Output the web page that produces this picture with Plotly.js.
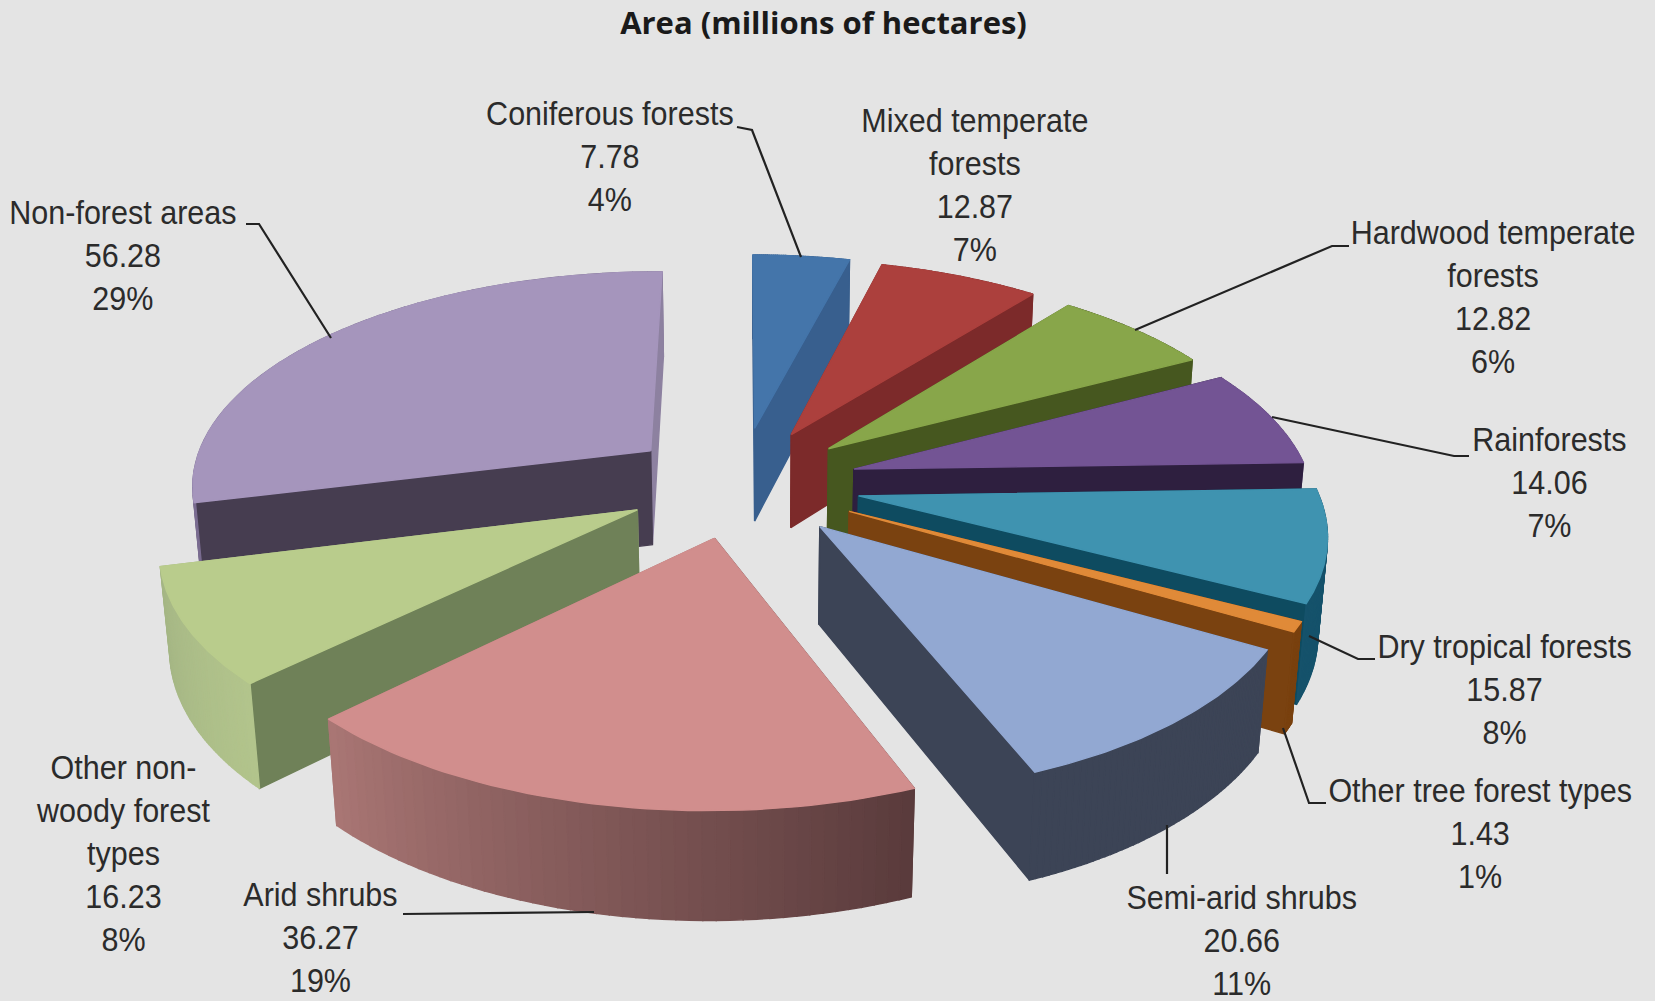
<!DOCTYPE html>
<html>
<head>
<meta charset="utf-8">
<title>Area (millions of hectares)</title>
<script src="https://cdn.plot.ly/plotly-3.0.1.min.js"></script>
<style>
html,body{margin:0;background:#e4e4e4}
#chart{width:1655px;height:1001px}
</style>
</head>
<body>
<div id="chart"></div>
<script>
// Land cover categories, clockwise from twelve o'clock.
const categories = ['Coniferous forests', 'Mixed temperate<br>forests', 'Hardwood temperate<br>forests',
  'Rainforests', 'Dry tropical forests', 'Other tree forest types', 'Semi-arid shrubs', 'Arid shrubs',
  'Other non-<br>woody forest<br>types', 'Non-forest areas'];
const areas = [7.78, 12.87, 12.82, 14.06, 15.87, 1.43, 20.66, 36.27, 16.23, 56.28];
const percentLabels = ['4%', '7%', '6%', '7%', '8%', '1%', '11%', '19%', '8%', '29%'];

// How far each slice is pulled from the pie centre, in radii.
const explode = [0.2677, 0.2618, 0.2581, 0.2602, 0.2634, 0.2673, 0.2599, 0.2539, 0.2509, 0.2509];

// Face colours per slice.
const topColors = ['#4475aa', '#ac403d', '#88a64a', '#735494', '#3f93b0', '#e08a38', '#92a8d2', '#d18e8d', '#b9cc8c', '#a595bc'];
const startWallColors = ['#385f8e', '#7c2a2a', '#46571f', '#2e1f3f', '#0e4b60', '#7a4210', '#3c4456', '#5a3b3c', '#6f8158', '#463d50'];
const endWallColors = ['#385f8e', '#7c2a2a', '#46571f', '#2e1f3f', '#0e4b60', '#7a4210', '#3c4456', '#a97674', '#a4b584', '#8d81a0'];
const rimStartColors = ['#385f8e', '#7c2a2a', '#46571f', '#5a4175', '#15526b', '#7a4210', '#3c4456', '#5a3b3c', '#b2c48c', '#7a6c90'];
const rimEndColors = ['#385f8e', '#7c2a2a', '#46571f', '#5a4175', '#15526b', '#7a4210', '#3c4456', '#a97674', '#a4b584', '#7a6c90'];

// Back-to-front painting order of the slices.
const paintOrder = [9, 0, 1, 2, 3, 4, 5, 6, 8, 7];

// Perspective camera: top plane of the pie, plus the last matrix column for the bottom plane.
const camera = [461.66421, 109.22402, 739.68628, 2.13951, -142.78072, 483.14469, 0.00337, 0.14751];
const topColumn = [739.68628, 483.14469, 1];
const bottomColumn = [752.37805, 588.07993, 1.01671];

const labelX = [610, 975, 1493, 1549, 1504, 1480, 1241, 320, 123, 123];
const labelY = [156, 185, 297, 482, 689, 833, 940, 937, 853, 255];
const labelScale = 0.925;

// Leader lines from the labels to their slices.
const leaderX = [[737, 752, 801], [], [1349, 1332, 1135], [1469, 1454, 1272], [1375, 1358, 1309], [1326, 1309, 1283], [1167, 1167], [403, 594], [], [246, 259, 331]];
const leaderY = [[127, 130, 257], [], [246, 246, 330], [456, 456, 417], [659, 659, 636], [803, 803, 728], [874, 825], [914, 912], [], [224, 224, 338]];

const total = areas.reduce((a, b) => a + b, 0);
const SEGMENTS = 48;

function project(col, X, Y) {
  const w = camera[6] * X + camera[7] * Y + col[2];
  return [(camera[0] * X + camera[1] * Y + col[0]) / w, (camera[3] * X + camera[4] * Y + col[1]) / w];
}

function hexToRgb(h) {
  return [1, 3, 5].map(i => parseInt(h.slice(i, i + 2), 16));
}
function mix(a, b, t) {
  const ca = hexToRgb(a), cb = hexToRgb(b);
  return 'rgb(' + ca.map((v, i) => Math.round(v + (cb[i] - v) * t)).join(',') + ')';
}

function polygon(points, color) {
  const cols = points.map(p => project(p[2], p[0], p[1]));
  return {
    x: cols.map(c => c[0]).concat(cols[0][0]),
    y: cols.map(c => c[1]).concat(cols[0][1]),
    mode: 'lines', fill: 'toself', fillcolor: color,
    line: {color: color, width: 1.4},
    hoverinfo: 'skip', showlegend: false
  };
}

function sliceTraces(i) {
  let before = 0;
  for (let k = 0; k < i; k++) before += areas[k];
  const a0 = before / total * 2 * Math.PI;
  const a1 = (before + areas[i]) / total * 2 * Math.PI;
  const mid = (a0 + a1) / 2;
  const cx = explode[i] * Math.sin(mid), cy = explode[i] * Math.cos(mid);
  const rim = [];
  for (let k = 0; k <= SEGMENTS; k++) {
    const t = a0 + (a1 - a0) * k / SEGMENTS;
    rim.push([cx + Math.sin(t), cy + Math.cos(t)]);
  }
  const quad = (p, q, color) => ({
    depth: (p[1] + q[1]) / 2,
    trace: polygon([[p[0], p[1], topColumn], [q[0], q[1], topColumn], [q[0], q[1], bottomColumn], [p[0], p[1], bottomColumn]], color)
  });
  const walls = [];
  for (let k = 0; k < SEGMENTS; k++) {
    walls.push(quad(rim[k], rim[k + 1], mix(rimStartColors[i], rimEndColors[i], k / (SEGMENTS - 1))));
  }
  walls.push(quad([cx, cy], rim[0], startWallColors[i]));
  walls.push(quad([cx, cy], rim[SEGMENTS], endWallColors[i]));
  walls.sort((a, b) => b.depth - a.depth);
  const face = [[cx, cy, topColumn]].concat(rim.map(r => [r[0], r[1], topColumn]));
  return walls.map(w => w.trace).concat(polygon(face, topColors[i]));
}

const traces = [];
paintOrder.forEach(i => traces.push(...sliceTraces(i)));
leaderX.forEach((xs, i) => {
  if (xs.length) traces.push({x: xs, y: leaderY[i], mode: 'lines', line: {color: '#222222', width: 2.2}, hoverinfo: 'skip', showlegend: false});
});

const annotations = categories.map((name, i) => ({
  x: labelX[i], y: labelY[i], xref: 'x', yref: 'y', showarrow: false, align: 'center',
  text: name + '<br>' + areas[i].toFixed(2) + '<br>' + percentLabels[i],
  font: {family: '"Liberation Sans", Arial, sans-serif', size: 33, color: '#2b2b2b'}
}));

const layout = {
  width: 1655, height: 1001,
  margin: {l: 0, r: 0, t: 0, b: 0},
  paper_bgcolor: '#e4e4e4', plot_bgcolor: '#e4e4e4',
  showlegend: false,
  title: {text: 'Area (millions of hectares)', x: 0.4976, xanchor: 'center', y: 0.977, yanchor: 'middle',
    font: {family: '"Open Sans", sans-serif', size: 31, weight: 700, color: '#1a1a1a'}},
  xaxis: {range: [0, 1655], visible: false, fixedrange: true},
  yaxis: {range: [1001, 0], visible: false, fixedrange: true},
  annotations: annotations
};

Plotly.newPlot('chart', traces, layout, {displayModeBar: false, staticPlot: true}).then(() => {
  // The labels are set in a condensed width.
  document.querySelectorAll('#chart .annotation-text').forEach(t => {
    t.style.transformBox = 'fill-box';
    t.style.transformOrigin = 'center';
    t.style.transform = 'scaleX(' + labelScale + ')';
  });
});
</script>
</body>
</html>
